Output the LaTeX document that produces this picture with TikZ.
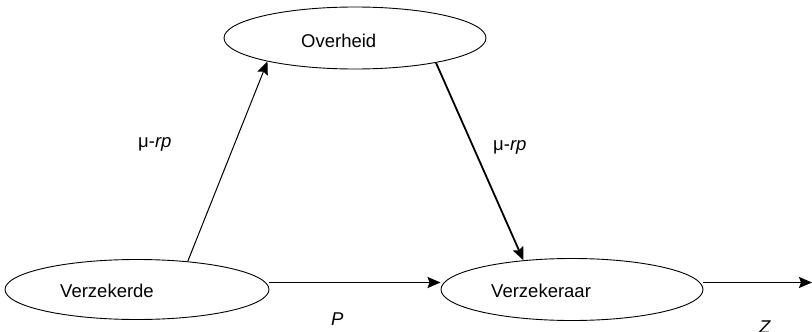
\documentclass[tikz,border=0pt]{standalone}
\usepackage{fontspec}
\setmainfont{Liberation Sans}
\usetikzlibrary{shapes.geometric,arrows.meta}
\begin{document}
\begin{tikzpicture}[x=1pt,y=-1pt,
  actor/.style={draw,ellipse,inner sep=0pt,line width=0.9pt},
  txt/.style={inner sep=0pt,anchor=base west,font=\fontsize{18.5}{22}\selectfont},
  flow/.style={-{Stealth[length=13pt,width=11pt,inset=2pt]}},
  thin flow/.style={flow,line width=1pt},
  thick flow/.style={flow,line width=1.8pt}]
\useasboundingbox (0,0) rectangle (812,332);

% the three parties
\node[actor,minimum width=262pt,minimum height=62pt] (ovh) at (355,38) {};
\node[actor,minimum width=264pt,minimum height=60pt] (vzk) at (137,289.5) {};
\node[actor,minimum width=262pt,minimum height=62pt] (vzr) at (572,289.5) {};

\node[txt] (ovh-t) at (301,47) {Overheid};
\node[txt] (vzk-t) at (60,297) {Verzekerde};
\node[txt] (vzr-t) at (491,297) {Verzekeraar};

% payment flows
\draw[thin flow] (vzk.29) -- (ovh.195);
\draw[thick flow] (ovh.-17) -- (vzr.149);
\draw[thick flow] ([yshift=7pt]vzk.east) -- ([yshift=7pt]vzr.west);
\coordinate (zend) at (812,282.5);
\draw[thick flow] ([yshift=7pt]vzr.east) -- (zend);

% flow labels
\node[txt] (l1) at (138,147) {μ-\textit{rp}};
\node[txt] (l2) at (493,150) {μ-\textit{rp}};
\node[txt] (lp) at (331,325) {\textit{P}};
\node[txt] (lz) at (759,333) {\textit{Z}};
\end{tikzpicture}
\end{document}
